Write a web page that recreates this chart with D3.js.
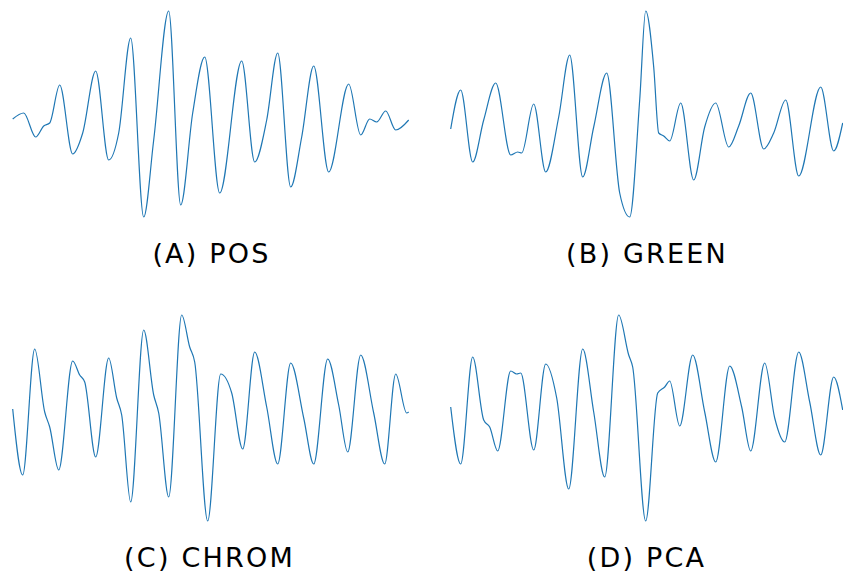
<!DOCTYPE html>
<html><head><meta charset="utf-8">
<script src="https://cdn.jsdelivr.net/npm/d3@7"></script>
<style>body{margin:0;background:#fff}</style>
</head><body>
<svg id="chart" width="843" height="573"></svg>
<script>
// sample index, amplitude (normalised)
const posT = [0,11,23,31,37,47,60,70,83,96,106,118,131,141,156,168,180,192,207,229,242,254,265,278,289,301,316,336,348,357,364,373,383,396];
const posV = [-0.05,0.01,-0.23,-0.12,-0.09,0.29,-0.40,-0.19,0.43,-0.46,-0.19,0.76,-1.03,-0.26,1.03,-0.91,0.01,0.57,-0.79,0.53,-0.48,-0.06,0.61,-0.73,-0.23,0.48,-0.58,0.30,-0.21,-0.05,-0.08,0.03,-0.16,-0.06];

const greenT = [0,10,22,33,45,60,67,71,83,95,108,119,132,143,156,169,179,189,195,203,208,213,219,230,243,254,265,278,288,300,313,323,335,348,370,383,392];
const greenV = [-0.15,0.24,-0.48,-0.06,0.31,-0.41,-0.38,-0.39,0.10,-0.58,-0.03,0.59,-0.63,-0.13,0.41,-0.79,-1.03,0.14,1.03,0.47,-0.19,-0.22,-0.27,0.11,-0.66,-0.13,0.11,-0.33,-0.12,0.21,-0.35,-0.19,0.14,-0.62,0.27,-0.37,-0.09];

const chromT = [0,10,22,32,37,46,60,67,72,83,96,104,109,118,131,141,146,156,169,177,182,195,208,219,230,242,254,265,278,291,301,315,326,335,348,361,372,383,394,396];
const chromV = [0.09,-0.57,0.69,0.06,-0.09,-0.52,0.57,0.43,0.36,-0.39,0.60,0.20,0.03,-0.84,0.88,0.23,0.05,-0.79,1.03,0.71,0.56,-1.03,0.44,0.25,-0.31,0.66,0.11,-0.46,0.55,0.00,-0.46,0.59,0.13,-0.34,0.63,0.05,-0.46,0.44,0.05,0.06];

const pcaT = [0,10,22,33,39,47,60,66,70,83,95,106,118,132,143,154,168,178,182,195,207,214,219,229,242,254,265,279,291,300,314,324,334,348,359,370,383,392];
const pcaV = [0.11,-0.46,0.61,-0.02,-0.09,-0.33,0.47,0.44,0.45,-0.32,0.54,0.20,-0.71,0.69,0.06,-0.59,1.03,0.63,0.51,-1.03,0.25,0.31,0.37,-0.08,0.63,0.06,-0.44,0.52,0.11,-0.33,0.55,0.00,-0.24,0.66,0.16,-0.37,0.41,0.08];

const titles = ["(A) POS","(B) GREEN","(C) CHROM","(D) PCA"];

const panels = [
  {t: posT, v: posV, x0: 12.7, y0: 10, title: titles[0], tx: 211.5, ty: 263},
  {t: greenT, v: greenV, x0: 450.7, y0: 10, title: titles[1], tx: 647, ty: 263},
  {t: chromT, v: chromV, x0: 12.7, y0: 314, title: titles[2], tx: 209.5, ty: 567},
  {t: pcaT, v: pcaV, x0: 450.7, y0: 314, title: titles[3], tx: 646.5, ty: 567}
];

const svg = d3.select("#chart");
panels.forEach(p => {
  const x = d3.scaleLinear().domain([0, 396]).range([p.x0, p.x0 + 396]);
  const y = d3.scaleLinear().domain([-1.04, 1.04]).range([p.y0 + 208, p.y0]);
  const data = p.t.map((t, i) => [t, p.v[i]]);
  const line = d3.line().x(d => x(d[0])).y(d => y(d[1])).curve(d3.curveMonotoneX);
  svg.append("path").datum(data)
    .attr("d", line)
    .attr("fill", "none")
    .attr("stroke", "#1f77b4")
    .attr("stroke-width", 1.2)
    .attr("stroke-linejoin", "round");
  svg.append("text")
    .attr("x", p.tx).attr("y", p.ty)
    .attr("text-anchor", "middle")
    .attr("font-family", "DejaVu Sans")
    .attr("font-size", 27)
    .attr("letter-spacing", "2.2px")
    .attr("fill", "#000")
    .text(p.title);
});
</script>
</body></html>
